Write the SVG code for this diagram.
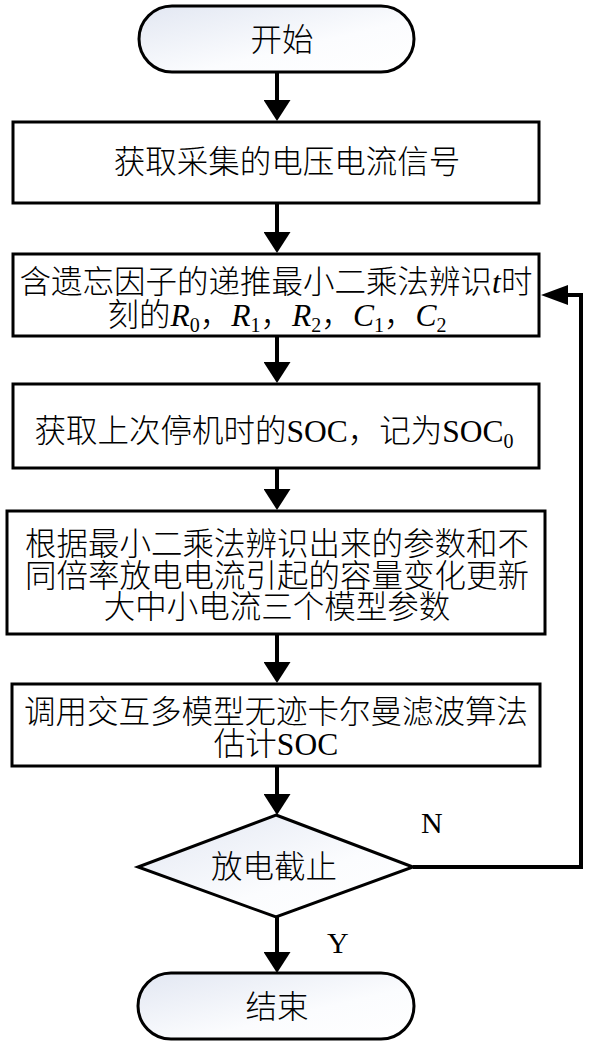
<svg xmlns="http://www.w3.org/2000/svg" width="591" height="1043" viewBox="0 0 591 1043">
<style>
.box{fill:#fff;stroke:#000;stroke-width:3}
.term{fill:url(#g);stroke:#000;stroke-width:3}
.t{font-family:"Liberation Serif","Noto Sans CJK SC",serif;font-size:31.5px;font-weight:300;fill:#000;text-anchor:middle}
.lab{font-family:"Liberation Serif",serif;font-size:30px;fill:#000}
.con{fill:none;stroke:#000;stroke-width:4}
.sub{font-size:20px}
.i{font-style:italic}
</style>
<defs>
<linearGradient id="g" x1="0" y1="0" x2="1" y2="1">
<stop offset="0" stop-color="#e2e7f2"/>
<stop offset="0.6" stop-color="#fbfcfe"/>
<stop offset="1" stop-color="#ffffff"/>
</linearGradient>
<marker id="av" viewBox="0 0 21 27" refX="1" refY="13.5" markerWidth="21" markerHeight="27" markerUnits="userSpaceOnUse" orient="auto">
<path d="M0,0 L21,13.5 L0,27 z" fill="#000"/>
</marker>
<marker id="ah" viewBox="0 0 27 20" refX="1" refY="10" markerWidth="27" markerHeight="20" markerUnits="userSpaceOnUse" orient="auto">
<path d="M0,0 L27,10 L0,20 z" fill="#000"/>
</marker>
</defs>
<g id="connectors">
<line class="con" x1="277" y1="72" x2="277" y2="101" marker-end="url(#av)"/>
<line class="con" x1="277" y1="203" x2="277" y2="233" marker-end="url(#av)"/>
<line class="con" x1="277" y1="336" x2="277" y2="363" marker-end="url(#av)"/>
<line class="con" x1="277" y1="468" x2="277" y2="490" marker-end="url(#av)"/>
<line class="con" x1="277" y1="634" x2="277" y2="663" marker-end="url(#av)"/>
<line class="con" x1="277" y1="766" x2="277" y2="795" marker-end="url(#av)"/>
<line class="con" x1="277" y1="917" x2="277" y2="953" marker-end="url(#av)"/>
<polyline class="con" points="413,867 581,867 581,295 567,295" marker-end="url(#ah)"/>
<text class="lab" x="421" y="833">N</text>
<text class="lab" x="327" y="953">Y</text>
</g>
<g id="start">
<rect class="term" x="139" y="6" width="275" height="66" rx="33" ry="33"/>
<text class="t" x="282" y="51">开始</text>
</g>
<g id="step1">
<rect class="box" x="13" y="122" width="526" height="81"/>
<text class="t" x="287" y="173">获取采集的电压电流信号</text>
</g>
<g id="step2">
<rect class="box" x="13" y="254" width="526" height="82"/>
<text class="t" x="276" y="293">含遗忘因子的递推最小二乘法辨识<tspan class="i">t</tspan>时</text>
<text class="t" x="277" y="326">刻的<tspan class="i">R</tspan><tspan class="sub" dy="6">0</tspan><tspan dy="-6">，</tspan><tspan class="i">R</tspan><tspan class="sub" dy="6">1</tspan><tspan dy="-6">，</tspan><tspan class="i">R</tspan><tspan class="sub" dy="6">2</tspan><tspan dy="-6">，</tspan><tspan class="i">C</tspan><tspan class="sub" dy="6">1</tspan><tspan dy="-6">，</tspan><tspan class="i">C</tspan><tspan class="sub" dy="6">2</tspan></text>
</g>
<g id="step3">
<rect class="box" x="13" y="384" width="526" height="84"/>
<text class="t" x="274" y="442">获取上次停机时的SOC，记为SOC<tspan class="sub" dy="6">0</tspan></text>
</g>
<g id="step4">
<rect class="box" x="7" y="511" width="538" height="123"/>
<text class="t" x="277" y="555">根据最小二乘法辨识出来的参数和不</text>
<text class="t" x="277" y="587">同倍率放电电流引起的容量变化更新</text>
<text class="t" x="277" y="618">大中小电流三个模型参数</text>
</g>
<g id="step5">
<rect class="box" x="12" y="684" width="528" height="82"/>
<text class="t" x="276" y="723">调用交互多模型无迹卡尔曼滤波算法</text>
<text class="t" x="276" y="755">估计SOC</text>
</g>
<g id="decision">
<polygon class="term" points="276,815 413,867 276,917 138,867"/>
<text class="t" x="274" y="878">放电截止</text>
</g>
<g id="end">
<rect class="term" x="138" y="973" width="276" height="66" rx="33" ry="33"/>
<text class="t" x="277" y="1018">结束</text>
</g>
</svg>
